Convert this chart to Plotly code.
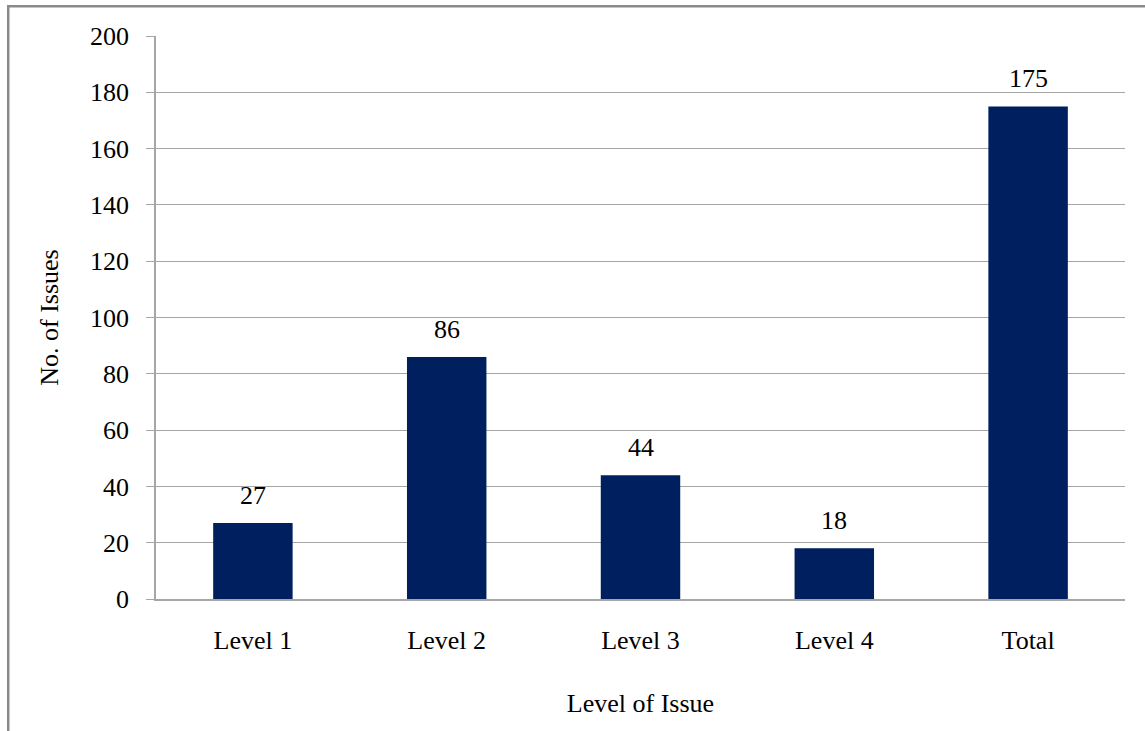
import plotly.graph_objects as go

categories = ["Level 1", "Level 2", "Level 3", "Level 4", "Total"]
issues = [27, 86, 44, 18, 175]
y_ticks = [0, 20, 40, 60, 80, 100, 120, 140, 160, 180, 200]

FONT = "Liberation Serif, Times New Roman, serif"
FS = 26
BAR = "#001F5F"
GRID = "#A6A6A6"

fig = go.Figure(
    go.Bar(
        x=categories,
        y=issues,
        marker=dict(color=BAR, line=dict(width=0)),
        width=0.41,
        hoverinfo="x+y",
    )
)

# value labels floating above each bar
for cat, val in zip(categories, issues):
    fig.add_annotation(
        x=cat, y=val, xref="x", yref="y",
        text=str(val), showarrow=False,
        yanchor="bottom", yshift=11,
        font=dict(family=FONT, size=FS, color="black"),
    )

fig.update_layout(
    width=1145,
    height=731,
    margin=dict(l=156, r=20, t=36, b=132),
    paper_bgcolor="white",
    plot_bgcolor="white",
    font=dict(family=FONT, size=FS, color="black"),
    showlegend=False,
    shapes=[
        dict(
            type="rect", xref="paper", yref="paper",
            x0=-0.1525, x1=1.2, y0=-0.4, y1=1.053,
            line=dict(color="#8A8A8A", width=2.5),
            fillcolor="rgba(0,0,0,0)", layer="below",
        )
    ],
)

fig.update_xaxes(
    showgrid=False,
    showline=True,
    linecolor=GRID,
    linewidth=1.5,
    ticks="",
    ticklabelstandoff=17,
    tickfont=dict(family=FONT, size=FS),
    title=dict(text="Level of Issue", font=dict(family=FONT, size=FS), standoff=40),
)

fig.update_yaxes(
    range=[0, 200],
    tickvals=y_ticks,
    showgrid=True,
    gridcolor=GRID,
    gridwidth=1.2,
    showline=True,
    linecolor=GRID,
    linewidth=1.5,
    ticks="outside",
    ticklen=8,
    tickcolor=GRID,
    tickwidth=1.2,
    ticklabelstandoff=12,
    tickfont=dict(family=FONT, size=FS),
    zeroline=False,
    title=dict(text="No. of Issues", font=dict(family=FONT, size=FS), standoff=24),
)

fig.write_html("out.html")
